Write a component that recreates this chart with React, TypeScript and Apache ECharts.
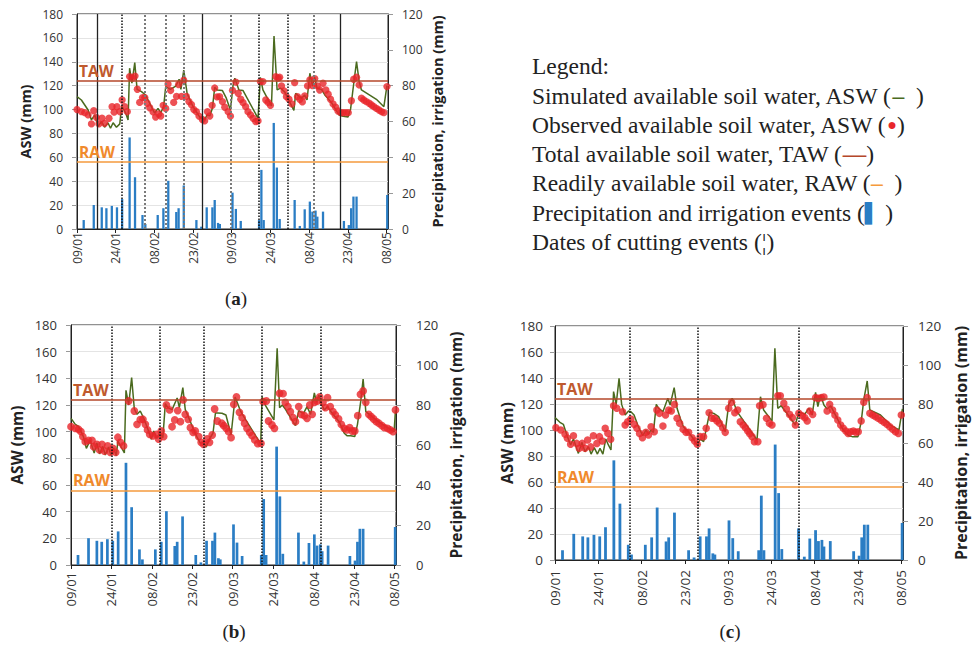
import React, { useEffect, useRef } from 'react';
import * as echarts from 'echarts';

// ---------- DATA ----------
const dateLabels = ['09/01', '24/01', '08/02', '23/02', '09/03', '24/03', '08/04', '23/04', '08/05'];
const TAW = 124;
const RAW = 56;

// [day since 09/01, mm]
const precipitation: [number, number][] = [
  [2.6, 5], [6.5, 13.4], [9.6, 12.1], [11.4, 11.6], [13.5, 12.9], [15.5, 12.1], [17.5, 16.8],
  [20.4, 51.1], [22.5, 28.9], [25.4, 7.8], [26.5, 2.8], [31.3, 7.8], [33.5, 11.6], [35.4, 26.9],
  [38.5, 9.5], [39.4, 11.6], [41.4, 24.3], [46.3, 5], [48.2, 1.3], [50.3, 12.1], [52.5, 12.1],
  [53.4, 16.2], [54.7, 3.4], [55.4, 2.8], [60.3, 20.3], [61.6, 11.2], [63.5, 4.5], [70.6, 5],
  [71.5, 33], [72.4, 5], [76.3, 59.2], [77.5, 34.3], [78.6, 5.6], [84.4, 16.2], [86.4, 1.7],
  [88.3, 11], [90.3, 15.3], [91.3, 9.7], [92.5, 10.3], [93.2, 6.9], [95.4, 9.7], [103.5, 4.5],
  [105.4, 2.2], [106.3, 11.6], [107.2, 18.1], [108.4, 18.1], [120.3, 19],
];

const simulatedA: [number, number][] = [
  [0, 110.8], [1.7, 108], [3, 103.8], [4.3, 99.6], [5.6, 91.3], [6.9, 95.5], [8.1, 85.7], [9.5, 89.9],
  [10.7, 85.2], [12, 89], [13, 84.3], [14, 89], [15.3, 85.2], [16.6, 88], [17.3, 103], [18.9, 97],
  [19.8, 91.3], [20.4, 134.6], [21.3, 122.1], [22.4, 139.3], [23.3, 116.9], [25, 115], [26.6, 112.2],
  [28.2, 105.2], [30.1, 97], [31.4, 101], [32.5, 97.4], [33.6, 102.4], [34.4, 119.2], [36.2, 116.9],
  [38.3, 119.6], [39.6, 125.4], [40.3, 116.9], [41.4, 133.1], [42.7, 113.5], [45, 102.4], [47.6, 93.6],
  [49.5, 91.3], [50.4, 95.5], [51.5, 94.7], [52.5, 101], [53.4, 118.6], [54.3, 116.4], [56.4, 115.9],
  [57.9, 109.5], [59.5, 99.6], [60.5, 120], [61.2, 126.2], [62.8, 116.4], [64.4, 115.9], [70.2, 92.7],
  [71.1, 127], [72.1, 116.4], [75.4, 103], [76.4, 161.6], [77.6, 116.4], [78.9, 118], [80.6, 114.6],
  [84.1, 99.3], [84.8, 113.5], [87, 109.3], [88.3, 112.2], [89.2, 108], [90.3, 130.4], [91.3, 119.6],
  [92.2, 127], [93.1, 117.7], [94.8, 116.9], [96.1, 112.2], [98.7, 105.8], [101.6, 95.5], [103.2, 94.4],
  [105.1, 93.8], [106.1, 100.5], [107.3, 121.6], [108.4, 140.1], [109.4, 123.6], [110.3, 116.4],
  [116.1, 108.6], [119, 102.4], [120.2, 120],
];

const observedA: [number, number][] = [
  [0, 100], [1.7, 98.3], [3, 97.4], [4.3, 95.5], [5.6, 88], [6.5, 99], [7.5, 93.5], [8.5, 88], [9.7, 92.7],
  [10.7, 88.5], [12.4, 92.7], [13.6, 102.4], [14.4, 97.8], [15.5, 102.4], [16.6, 98.2], [17.5, 108],
  [18.5, 102.4], [19.5, 98.2], [20.4, 127.6], [21.5, 126.3], [22.5, 128], [23.4, 117], [24.3, 106],
  [25.4, 110], [26.3, 110], [27.2, 105.3], [28.2, 101.5], [29.5, 98], [30.5, 93.7], [31.7, 96.3],
  [32.5, 94.6], [33.4, 103.5], [34.4, 100.9], [35.3, 121.3], [36.3, 116], [37.5, 106], [38.6, 111],
  [39.4, 121], [40.5, 111], [41.4, 124.5], [42.4, 111], [43.4, 106.7], [44.4, 104], [45.3, 100],
  [46.3, 98.2], [47.3, 94.5], [48.6, 91.7], [49.5, 90.5], [50.6, 98.2], [51.5, 94.6], [52.4, 103.5],
  [53.4, 118], [54.3, 110.6], [55.3, 110.8], [56.4, 106.6], [57.3, 101.9], [58.6, 98.2], [59.5, 94.5],
  [60.3, 116], [61.6, 123], [62.5, 113.6], [63.5, 108.6], [64.4, 105.8], [65.4, 102.4], [66.3, 98.2],
  [67.3, 95.5], [68.3, 92.7], [69.3, 89.9], [70.2, 90.5], [71.1, 123.4], [72.1, 123.4], [73.2, 108],
  [74.1, 106], [75, 103.5], [77.1, 127.6], [78, 126.3], [78.6, 127], [79.3, 119.8], [80.3, 115.6],
  [81.2, 110.8], [82.2, 108.6], [83.3, 104.7], [84.4, 122.5], [85.5, 110.8], [86.4, 108.6], [87.4, 106.4],
  [88.3, 111.4], [89.4, 119.8], [90.3, 124.8], [91.3, 120], [92.2, 125.9], [93.2, 119.8], [94.1, 116.4],
  [95.4, 122], [96.5, 116.4], [97.4, 112.8], [98.3, 108.6], [99.3, 104.7], [100.3, 101.9], [101.2, 98.8],
  [102.3, 97.4], [103.2, 97.4], [104.2, 97.4], [105.2, 97.4], [106.4, 107.4], [107.3, 125.4], [108.4, 127],
  [109.4, 120.6], [110.3, 109.5], [111.2, 108], [112.2, 106.6], [113.3, 105.3], [114.2, 103.8],
  [115.1, 102.4], [116.1, 101], [117.1, 99.6], [118.1, 98.2], [119, 97.4], [120.2, 119.2],
];

const simulatedB: [number, number][] = [
  [0, 110], [1.6, 105.5], [2.8, 104], [4.6, 96.3], [5.7, 87.5], [7.1, 93.5], [8.6, 84], [9.6, 91.5],
  [10.6, 83.3], [11.8, 89], [12.7, 82.5], [13.9, 88.5], [14.8, 82.5], [15.8, 88], [16.8, 82], [17.4, 93],
  [19.8, 84], [20.4, 131], [21.4, 120], [22.5, 140.5], [23.5, 117], [24.5, 113], [25.7, 115.5], [27, 110],
  [28.6, 101.5], [29.8, 94.3], [30.7, 100.5], [31.8, 95], [33.1, 99.5], [34.1, 95.5], [35, 121], [35.9, 118],
  [37.5, 116.5], [39.4, 125.3], [40.2, 118], [41.5, 133], [42.4, 116.5], [44.3, 107.5], [45.5, 101.5],
  [46.7, 96.3], [48, 91.3], [49.2, 92], [50.2, 88.5], [51.4, 94.5], [52.7, 99], [53.6, 114], [54.5, 114],
  [56, 113.8], [57.5, 112.5], [59.4, 97.5], [60.9, 126], [62.9, 115.5], [64.1, 111.3], [70.4, 90.8],
  [70.9, 126], [72.2, 119.5], [75.3, 108.8], [76.5, 162.5], [77.4, 118], [78.4, 120], [79.6, 116.8],
  [83.3, 104.5], [84.5, 115.8], [86.2, 113.5], [87.6, 118.8], [88.9, 113], [90.3, 129], [91.1, 122],
  [92, 127.5], [93, 120.5], [94, 116.3], [95.2, 118.8], [96.5, 115], [99.5, 107.5], [101.4, 98.8],
  [102.4, 97], [103.8, 97], [105.3, 96.3], [106.3, 105.5], [107.5, 122.5], [108.4, 139.5], [109.4, 115],
  [113.7, 108], [118.7, 101.3], [119.9, 100], [120.4, 116],
];

const observedB: [number, number][] = [
  [0, 103.7], [1.6, 102.5], [2.8, 101.8], [3.7, 100], [4.4, 96.3], [5.3, 92.5], [6.5, 93.5], [7.8, 93.5],
  [8.4, 88.7], [9.6, 90.5], [10.6, 86.3], [11.5, 90.5], [12.4, 85.5], [13.6, 89.3], [14.6, 84.5],
  [15.6, 87.5], [16.6, 84.5], [17.4, 95.8], [18.3, 92], [19.5, 89.3], [21.4, 123], [23.5, 115.5],
  [24.5, 105.5], [25.7, 109], [26.7, 109.3], [27.6, 105.5], [28.4, 101.3], [29.2, 98], [30.4, 96.8],
  [31.7, 98], [32.5, 94.5], [33.5, 100.5], [34.4, 96.3], [35.4, 120], [36.6, 116.3], [37.5, 103.7],
  [38.5, 108.8], [39.6, 115.8], [40.6, 107.5], [41.6, 123.8], [42.4, 113], [43.5, 109.3], [44.3, 103],
  [45.3, 99.5], [46.1, 100.5], [47.4, 96.3], [48.3, 92], [49.2, 90.5], [50.5, 94.5], [51.4, 92],
  [52.4, 97.5], [53.3, 117], [54.3, 108], [56, 106.3], [56.7, 104.5], [57.6, 102.5], [58.5, 100],
  [59.4, 95.5], [60.4, 120.5], [61.4, 126], [62.5, 114.5], [63.5, 110.5], [64.4, 106.3], [65.3, 102.5],
  [66.3, 99.5], [67.2, 97], [68.2, 93.8], [69.3, 91], [70.5, 91.3], [71.3, 122.5], [72.5, 123],
  [73.3, 108], [74.6, 105], [75.5, 102.5], [77.4, 128.8], [78.7, 128.5], [79.5, 122], [80.5, 118.8],
  [81.4, 115], [82.4, 110.5], [83.3, 107.5], [84.5, 118.8], [85.4, 113], [86.6, 112], [87.6, 110],
  [88.6, 120], [89.5, 113], [90.3, 122], [91.3, 123], [92.3, 126], [93.5, 122], [94.4, 118], [95.2, 125.5],
  [96.2, 118.8], [97.2, 115], [98.1, 112.5], [99.3, 109.5], [100.3, 105.5], [101.4, 102.5], [102.4, 101.3],
  [103.4, 103], [104.3, 100.5], [105.3, 100.5], [106.4, 112], [107.4, 128], [108.4, 130.5], [109.4, 122],
  [110.5, 113], [111.4, 111.3], [112.3, 109.5], [113.3, 107.5], [114.3, 106.3], [115.4, 104.5],
  [116.3, 103], [117.5, 102.5], [118.5, 101.3], [119.5, 100], [120.4, 116.3],
];

const simulatedC: [number, number][] = [
  [0, 109.5], [1.7, 105.9], [2.9, 104.4], [4.1, 96.2], [5.4, 88.5], [6.4, 93.1], [8.1, 82], [9.3, 90.5],
  [10.4, 83.3], [11.6, 87.2], [12.5, 81.5], [13.6, 86.4], [14.7, 81.5], [15.6, 85.9], [16.6, 81.5],
  [17.6, 93.1], [18.5, 88.5], [19.4, 84.6], [20.3, 129.5], [21.2, 119.7], [22.2, 139.7], [23.1, 119.7],
  [24.3, 111.5], [25.5, 114.6], [26.3, 114.1], [27.4, 111.5], [28.9, 102.5], [30.4, 95.6], [31.6, 100],
  [32.4, 96.7], [33.2, 100], [34.1, 98.2], [35.1, 119.7], [35.9, 116.7], [37.4, 114.1], [39.1, 124.4],
  [39.9, 119.2], [41.3, 132.6], [42.3, 116.7], [43.4, 109], [44.5, 102.5], [46.3, 98.2], [48, 93.1],
  [49.4, 88], [50.3, 93.1], [51.5, 91], [52.7, 103.8], [53.6, 113.6], [55, 112.8], [56.7, 110.3], [59, 98.7],
  [60.2, 119.7], [61.4, 124.4], [63.1, 114.1], [70, 92.3], [71.2, 125.6], [72.3, 115.4], [75.2, 107],
  [76.2, 162.8], [77.2, 116.7], [78.4, 118.7], [79.5, 115.4], [83.3, 103.8], [84.5, 114.1], [86.5, 112],
  [88, 116.7], [89.1, 111.5], [90.3, 129], [91.1, 118], [92, 126.9], [93.2, 119.2], [94.3, 116.2],
  [95.5, 118.7], [97.2, 111.5], [99.9, 100], [101.8, 95.6], [103, 94.9], [105, 94.9], [106.1, 106],
  [107, 123.2], [108.2, 137.7], [109.1, 115.4], [112.8, 111.5], [116.3, 103.8], [119.2, 100], [120.4, 116.2],
];

const observedC: [number, number][] = [
  [0.3, 101.8], [2, 100], [3.5, 96.7], [4.3, 93.6], [5.4, 89], [6.4, 95.6], [7.5, 89.7], [8.4, 85.9],
  [9.4, 89.7], [10.4, 85.9], [11.3, 92.3], [12.4, 87], [13.3, 95.6], [14.5, 89.7], [15.4, 94.9], [16.4, 91.5],
  [17.4, 101.3], [18.3, 97.5], [19.3, 92.8], [20.3, 118.7], [21.4, 116.7], [23.4, 114], [24.3, 103.8],
  [25.2, 106.4], [26.3, 108.5], [27.4, 104.4], [28.4, 101.3], [29.3, 97.4], [30.3, 94.1], [31.5, 98.2],
  [32.4, 96.2], [33.3, 102.5], [34.4, 98.7], [35.3, 115.4], [36.2, 112.8], [37.4, 103], [38.3, 111.5],
  [39.4, 115.4], [40.3, 114.6], [41.4, 119.7], [42.3, 109], [43.2, 105.1], [44.4, 100.5], [45.4, 98.2],
  [46.3, 98.2], [47.5, 94.1], [48.4, 91.5], [49.3, 89], [50.3, 94.9], [51.5, 94.9], [52.4, 101.3],
  [53.4, 113.3], [54.4, 109], [55.3, 109], [56.1, 106.9], [57, 105.1], [58.1, 101.8], [59, 98.2],
  [60.2, 116.7], [61.2, 121.3], [62.3, 113.3], [63.3, 115.4], [64.2, 106.4], [65.2, 103.8], [66, 101.8],
  [66.8, 99.2], [67.5, 97.2], [68.3, 94.9], [69.1, 91], [70.3, 91], [70.9, 118.7], [72.1, 119.5], [73.3, 109],
  [74.3, 105.1], [75.2, 103.8], [77.2, 126.4], [78.1, 126.4], [79.3, 120.5], [80.2, 116.2], [81.3, 112],
  [82.3, 109.5], [83.3, 103.8], [84.5, 112.8], [85.7, 111], [86.6, 109.5], [87.4, 107], [88.3, 114.6],
  [89.3, 112], [90.3, 124.9], [91.2, 124.4], [92.3, 124.9], [93.2, 125.4], [94.3, 114.6], [95.2, 119.7],
  [96.2, 115.4], [97, 111.5], [98, 107.7], [99, 103.8], [99.9, 101.3], [100.8, 99.2], [101.6, 97.4],
  [102.4, 98.7], [103.4, 99.2], [104.2, 98.2], [105.1, 98.7], [106.1, 107], [107, 121.3], [108.2, 124.9],
  [109.1, 112.8], [110.1, 111.5], [111, 110.3], [112, 109], [113, 107.5], [114, 106], [115, 104.5],
  [116, 102.5], [117, 100.5], [118, 98.7], [119, 97.4], [120, 111.5],
];

// cutting event dates (day index)
const cutsASolid = [8, 48.5, 102];
const cutsADotted = [17.2, 70.6, 81.6];
const cutsAGray = [26.3, 34.3, 41.4, 59.5, 91.8];
const cutsB = [15.3, 33.1, 49.3, 70.6, 92.5];
const cutsC = [26, 49.3, 84.4];

// ---------- STYLE ----------
const SANS = "'Open Sans', 'Noto Sans', 'DejaVu Sans', sans-serif";
const SERIF = "'Liberation Serif', 'DejaVu Serif', serif";
const TXT = '#333';
const SIM_COLOR = '#4a6a1e';
const OBS_COLOR = '#e8262b';
const BAR_COLOR = '#2a7dc4';
const TAW_COLOR = '#b5472a';
const TAW_TXT = '#bf5a2e';
const RAW_COLOR = '#f59a3c';
const RAW_TXT = '#f08a2c';

const panels = [
  {
    grid: { left: 77, top: 14, width: 311, height: 215 },
    fs: 12, nameFs: 14.5, xMargin: 3, lMargin: 14, rMargin: 14, lGap: 44, rGap: 42,
    sym: 7.3, bar: 2.3, tawFs: 15.5,
    sim: simulatedA, obs: observedA,
    cuts: [
      { days: cutsASolid, style: { color: '#222', width: 1.3, type: 'solid' } },
      { days: cutsADotted, style: { color: '#111', width: 1.5, type: 'dotted' } },
      { days: cutsAGray, style: { color: '#7a7a7a', width: 2, type: 'dotted' } },
    ],
  },
  {
    grid: { left: 71, top: 325, width: 325, height: 240 },
    fs: 13, nameFs: 15.5, xMargin: 7, lMargin: 14, rMargin: 20, lGap: 46, rGap: 52,
    sym: 7.8, bar: 2.7, tawFs: 16,
    sim: simulatedB, obs: observedB,
    cuts: [{ days: cutsB, style: { color: '#111', width: 1.5, type: 'dotted' } }],
  },
  {
    grid: { left: 555, top: 326, width: 348, height: 234 },
    fs: 13.5, nameFs: 16, xMargin: 10, lMargin: 12, rMargin: 15, lGap: 40, rGap: 50,
    sym: 7.5, bar: 2.8, tawFs: 16,
    sim: simulatedC, obs: observedC,
    cuts: [{ days: cutsC, style: { color: '#111', width: 1.5, type: 'dotted' } }],
  },
];

function buildOption() {
  const grid: any[] = [];
  const xAxis: any[] = [];
  const yAxis: any[] = [];
  const series: any[] = [];
  panels.forEach((p, i) => {
    grid.push({ ...p.grid, show: true, borderColor: '#222', borderWidth: 1, backgroundColor: 'transparent' });
    xAxis.push({
      type: 'value', gridIndex: i, min: 0, max: 120.6, interval: 15,
      axisLine: { show: true, onZero: false, lineStyle: { color: '#222' } },
      axisTick: { show: true, length: 4, lineStyle: { color: '#222' } },
      splitLine: { show: false },
      axisLabel: {
        rotate: 90, margin: p.xMargin, fontSize: p.fs, color: TXT, fontFamily: SANS,
        showMaxLabel: false,
        formatter: (v: number) => (Math.abs(v % 15) < 1e-6 ? dateLabels[Math.round(v / 15)] : ''),
      },
    });
    yAxis.push({
      type: 'value', gridIndex: i, min: 0, max: 180, interval: 20, position: 'left',
      name: 'ASW (mm)', nameLocation: 'middle', nameRotate: 90, nameGap: p.lGap,
      nameTextStyle: { fontWeight: 'bold', fontSize: p.nameFs, color: '#222', fontFamily: SANS },
      axisLine: { show: true, lineStyle: { color: '#222' } },
      axisTick: { show: true, length: 5, lineStyle: { color: '#999' } },
      splitLine: { show: true, lineStyle: { color: '#e4e4e4', width: 1 } },
      axisLabel: { margin: p.lMargin, fontSize: p.fs, color: TXT, fontFamily: SANS },
    });
    yAxis.push({
      type: 'value', gridIndex: i, min: 0, max: 120, interval: 20, position: 'right',
      name: 'Precipitation, irrigation (mm)', nameLocation: 'middle', nameRotate: 90, nameGap: p.rGap,
      nameTextStyle: { fontWeight: 'bold', fontSize: p.nameFs, color: '#222', fontFamily: SANS },
      axisLine: { show: true, lineStyle: { color: '#222' } },
      axisTick: { show: true, length: 5, lineStyle: { color: '#999' } },
      splitLine: { show: false },
      axisLabel: { margin: p.rMargin, fontSize: p.fs, color: TXT, fontFamily: SANS },
    });
    const cutData: any[] = [];
    p.cuts.forEach((c) => c.days.forEach((d) => cutData.push({ xAxis: d, lineStyle: c.style })));
    series.push({
      type: 'bar', xAxisIndex: i, yAxisIndex: 2 * i + 1, data: precipitation, barWidth: p.bar,
      itemStyle: { color: BAR_COLOR }, z: 2, silent: true,
      markLine: { silent: true, symbol: ['none', 'none'], label: { show: false }, data: cutData },
    });
    series.push({
      type: 'line', xAxisIndex: i, yAxisIndex: 2 * i, data: p.sim, showSymbol: false, symbol: 'none',
      lineStyle: { color: SIM_COLOR, width: 1.5 }, z: 3, silent: true,
      markLine: {
        silent: true, symbol: ['none', 'none'],
        data: [
          {
            yAxis: TAW, lineStyle: { color: TAW_COLOR, width: 1.5, type: 'solid' },
            label: { show: true, position: 'insideStartTop', formatter: 'TAW', color: TAW_TXT, fontWeight: 'bold', fontSize: p.tawFs, fontFamily: SANS, distance: [2, 2] },
          },
          {
            yAxis: RAW, lineStyle: { color: RAW_COLOR, width: 1.5, type: 'solid' },
            label: { show: true, position: 'insideStartTop', formatter: 'RAW', color: RAW_TXT, fontWeight: 'bold', fontSize: p.tawFs, fontFamily: SANS, distance: [2, 2] },
          },
        ],
      },
    });
    series.push({
      type: 'scatter', xAxisIndex: i, yAxisIndex: 2 * i, data: p.obs, symbolSize: p.sym,
      itemStyle: { color: OBS_COLOR }, z: 4, silent: true,
    });
  });

  const legendFs = 23.5;
  const legendX = 532;
  const lineYs = [66, 95.5, 124.8, 154.1, 183.4, 212.7, 242];
  const base = { fontSize: legendFs, fontFamily: SERIF, fill: '#222' };
  const legendLines = [
    { text: 'Legend:', rich: {} },
    { text: '{t|Simulated available soil water, ASW (}{g|–}{t|  )}', rich: { g: { ...base, fill: SIM_COLOR, fontWeight: 'bold' } } },
    { text: '{t|Observed available soil water, ASW (}{r|●}{t|)}', rich: { r: { ...base, fontSize: 16, fill: OBS_COLOR } } },
    { text: '{t|Total available soil water, TAW (}{b|—}{t|)}', rich: { b: { ...base, fill: TAW_COLOR, fontWeight: 'bold' } } },
    { text: '{t|Readily available soil water, RAW (}{o|–}{t|  )}', rich: { o: { ...base, fill: RAW_COLOR, fontWeight: 'bold' } } },
    { text: '{t|Precipitation and irrigation events (}{p|▌}{t| )}', rich: { p: { ...base, fontFamily: "'DejaVu Sans', sans-serif", fontSize: 19, fill: BAR_COLOR } } },
    { text: 'Dates of cutting events (¦)', rich: {} },
  ];
  const graphic: any[] = legendLines.map((l, k) => ({
    type: 'text', x: legendX, y: lineYs[k], silent: true,
    style: { ...base, text: l.text, verticalAlign: 'middle', align: 'left', rich: { t: { ...base }, ...l.rich } },
  }));
  const panelLabels = [
    { l: 'a', x: 236, y: 298 },
    { l: 'b', x: 234, y: 631 },
    { l: 'c', x: 730, y: 631 },
  ];
  panelLabels.forEach((pl) => {
    graphic.push({
      type: 'text', x: pl.x, y: pl.y, silent: true,
      style: {
        text: `{p|(}{b|${pl.l}}{p|)}`, align: 'center', verticalAlign: 'middle', fontSize: 19, fontFamily: SERIF, fill: '#222',
        rich: {
          p: { fontSize: 19, fontFamily: SERIF, fill: '#222' },
          b: { fontSize: 19, fontFamily: SERIF, fill: '#222', fontWeight: 'bold' },
        },
      },
    });
  });

  return { animation: false, backgroundColor: '#fff', grid, xAxis, yAxis, series, graphic };
}

export default function App() {
  const ref = useRef<HTMLDivElement>(null);
  useEffect(() => {
    if (!ref.current) return;
    const chart = echarts.init(ref.current, undefined, { renderer: 'svg' });
    chart.setOption(buildOption() as any);
    return () => chart.dispose();
  }, []);
  return (
    <div style={{ position: 'absolute', left: 0, top: 0, width: 975, height: 645, background: '#fff' }}>
      <div ref={ref} style={{ width: 975, height: 645 }} />
    </div>
  );
}
